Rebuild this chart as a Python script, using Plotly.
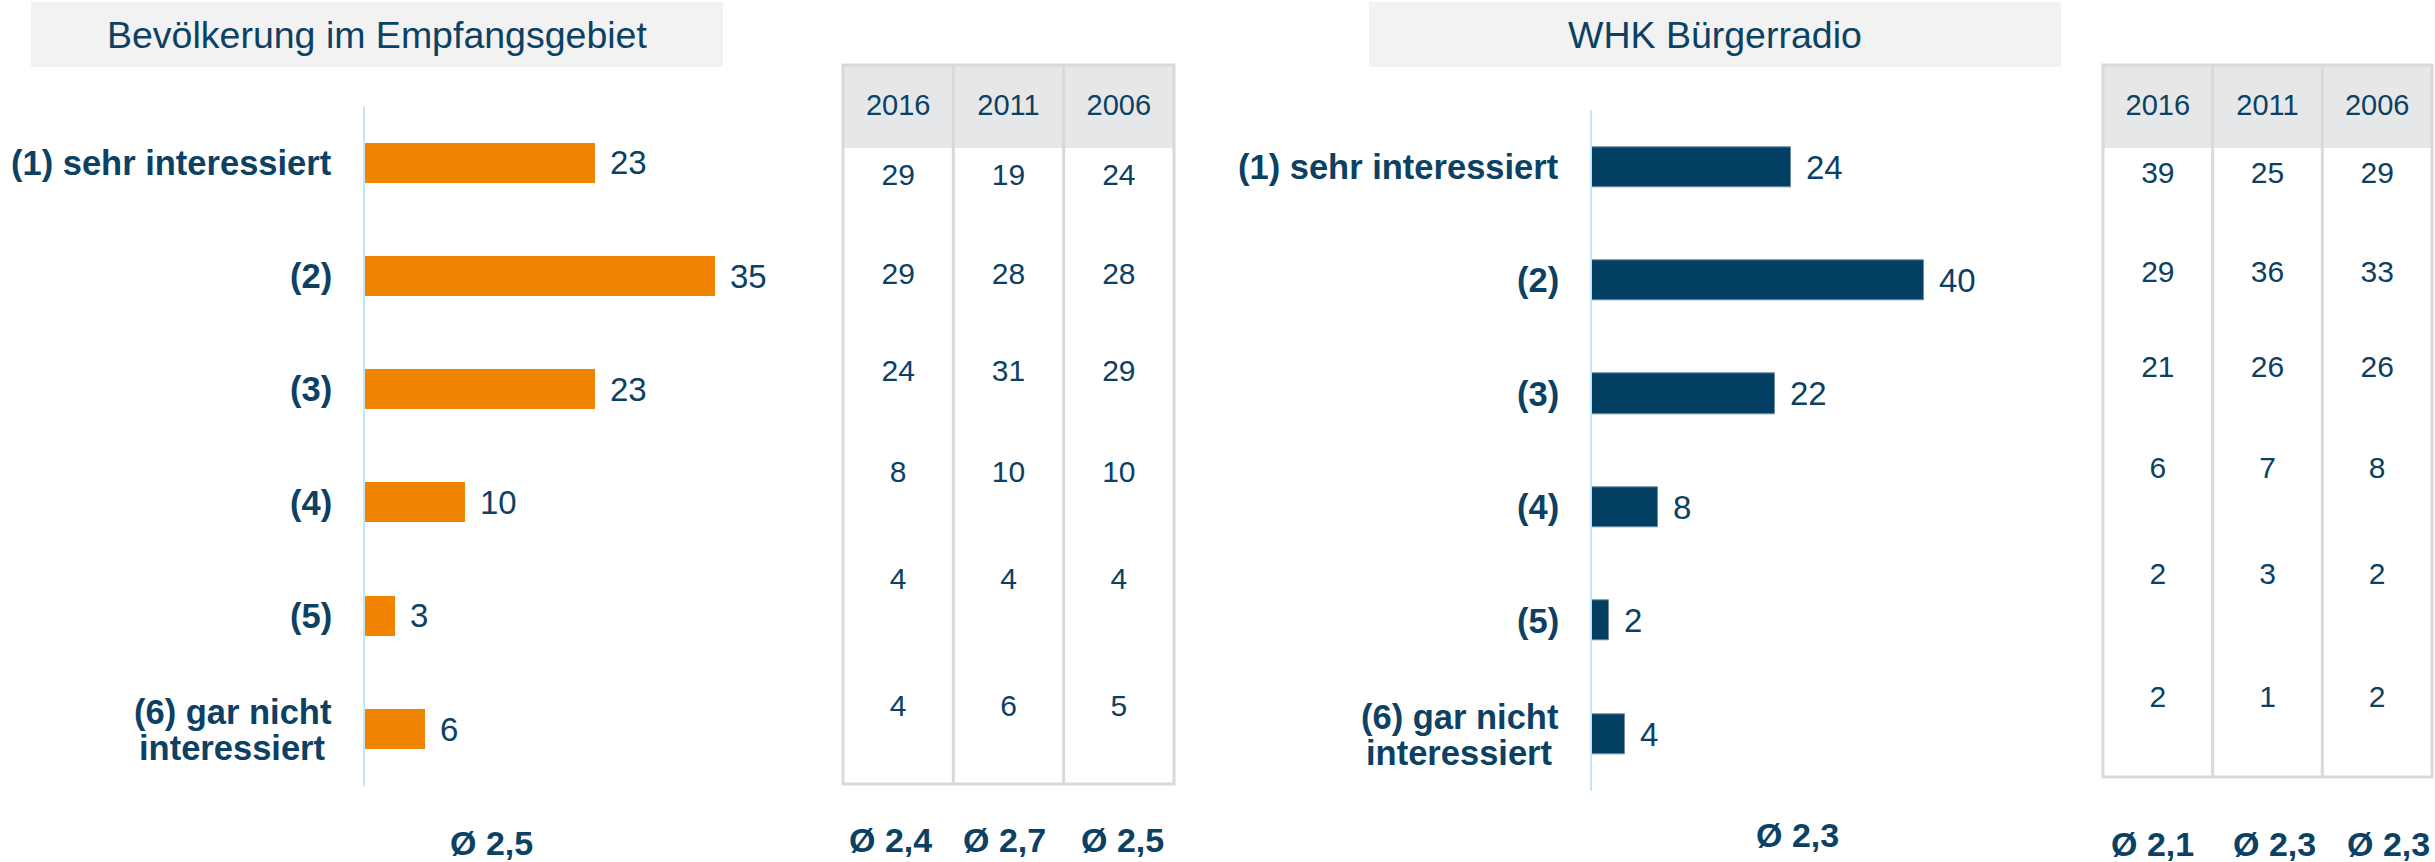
import plotly.graph_objects as go

# ---------------- data ----------------
CATEGORIES = ["(1) sehr interessiert", "(2)", "(3)", "(4)", "(5)", "(6) gar nicht<br>interessiert"]

BEV_TITLE = "Bevölkerung im Empfangsgebiet"
BEV_VALUES = [23, 35, 23, 10, 3, 6]
BEV_AVG = "Ø 2,5"

WHK_TITLE = "WHK Bürgerradio"
WHK_VALUES = [24, 40, 22, 8, 2, 4]
WHK_AVG = "Ø 2,3"

YEARS = ["2016", "2011", "2006"]
BEV_2016 = [29, 29, 24, 8, 4, 4]
BEV_2011 = [19, 28, 31, 10, 4, 6]
BEV_2006 = [24, 28, 29, 10, 4, 5]
BEV_YEAR_AVG = ["Ø 2,4", "Ø 2,7", "Ø 2,5"]

WHK_2016 = [39, 29, 21, 6, 2, 2]
WHK_2011 = [25, 36, 26, 7, 3, 1]
WHK_2006 = [29, 33, 26, 8, 2, 2]
WHK_YEAR_AVG = ["Ø 2,1", "Ø 2,3", "Ø 2,3"]

# ---------------- layout constants ----------------
W, H = 2435, 862
FONT = "Liberation Sans, Arial, sans-serif"
TXT = "#0c4163"
ORANGE = "#f08300"
NAVY = "#023f62"
AXIS_BLUE = "#c4e6fa"
GRID = "#d9d9d9"
HEAD_BG = "#e6e7e9"
TITLE_BG = "#f2f2f2"


def px(x):
    return x / W


def py(y):
    return 1 - y / H


fig = go.Figure()

idx = list(range(len(CATEGORIES)))

# bars
fig.add_trace(go.Bar(x=BEV_VALUES, y=idx, orientation="h", width=0.353,
                     marker=dict(color=ORANGE, line=dict(width=0)),
                     xaxis="x", yaxis="y", hoverinfo="skip"))
fig.add_trace(go.Bar(x=WHK_VALUES, y=idx, orientation="h", width=0.353,
                     marker=dict(color=NAVY, line=dict(width=1, color="#6d8da3")),
                     xaxis="x2", yaxis="y2", hoverinfo="skip"))

# tables (text cells)
ROW_Y_BEV = [177, 276, 373, 474, 581, 708]
ROW_Y_WHK = [175, 274, 369, 470, 576, 699]
for cols, rows, xa in (((BEV_2016, BEV_2011, BEV_2006), ROW_Y_BEV, "x3"),
                       ((WHK_2016, WHK_2011, WHK_2006), ROW_Y_WHK, "x4")):
    xs, ys, ts = [], [], []
    for year, col in zip(YEARS, cols):
        for r, v in zip(rows, col):
            xs.append(year)
            ys.append(r)
            ts.append(str(v))
    fig.add_trace(go.Scatter(x=xs, y=ys, text=ts, mode="text",
                             textposition="middle center",
                             textfont=dict(family=FONT, size=30, color=TXT),
                             xaxis=xa, yaxis="y3", hoverinfo="skip"))
    # header
    fig.add_trace(go.Scatter(x=YEARS, y=[108] * 3, text=YEARS, mode="text",
                             textposition="middle center",
                             textfont=dict(family=FONT, size=29, color=TXT),
                             xaxis=xa, yaxis="y3", hoverinfo="skip"))

shapes = []
annotations = []

# title boxes
for (x0, x1, title) in ((31, 723, BEV_TITLE), (1369, 2061, WHK_TITLE)):
    shapes.append(dict(type="rect", xref="paper", yref="paper",
                       x0=px(x0), x1=px(x1), y0=py(67), y1=py(2),
                       fillcolor=TITLE_BG, line=dict(width=0), layer="below"))
    annotations.append(dict(xref="paper", yref="paper", x=px((x0 + x1) / 2), y=py(35),
                            text=title, showarrow=False, xanchor="center", yanchor="middle",
                            font=dict(family=FONT, size=37.5, color=TXT)))

# tables: header background, borders
for (x0, x1, top, bottom) in ((843, 1174, 65, 784), (2103, 2432, 65, 777)):
    shapes.append(dict(type="rect", xref="paper", yref="paper",
                       x0=px(x0), x1=px(x1), y0=py(148), y1=py(top),
                       fillcolor=HEAD_BG, line=dict(width=0), layer="below"))
    shapes.append(dict(type="rect", xref="paper", yref="paper",
                       x0=px(x0), x1=px(x1), y0=py(bottom), y1=py(top),
                       line=dict(color=GRID, width=3)))
    cw = (x1 - x0) / 3
    for k in (1, 2):
        shapes.append(dict(type="line", xref="paper", yref="paper",
                           x0=px(x0 + k * cw), x1=px(x0 + k * cw), y0=py(bottom), y1=py(top),
                           line=dict(color=GRID, width=3)))

# category labels and value labels
LABEL_FONT = dict(family=FONT, size=34.5, color=TXT)
for yref, xref, label_x, values in (("y", "x", 334, BEV_VALUES), ("y2", "x2", 1561, WHK_VALUES)):
    for i, (cat, v) in enumerate(zip(CATEGORIES, values)):
        lines = cat.split("<br>")
        if len(lines) == 1:
            annotations.append(dict(xref="paper", yref=yref, x=px(label_x), y=i,
                                    text="<b>%s</b>" % cat, showarrow=False,
                                    xanchor="right", yanchor="middle", font=LABEL_FONT))
        else:
            # two centred lines forming a right-aligned block
            annotations.append(dict(xref="paper", yref=yref, x=px(label_x), y=i,
                                    text="<b>%s</b>" % lines[0], showarrow=False, yshift=17,
                                    xanchor="right", yanchor="middle", font=LABEL_FONT))
            annotations.append(dict(xref="paper", yref=yref, x=px(label_x - 6), y=i,
                                    text="<b>%s</b>" % lines[1], showarrow=False, yshift=-19,
                                    xanchor="right", yanchor="middle", font=LABEL_FONT))
        annotations.append(dict(xref=xref, yref=yref, x=v, y=i, text=str(v), showarrow=False,
                                xanchor="left", yanchor="middle", xshift=13,
                                font=dict(family=FONT, size=33, color=TXT)))

# averages
for x, y, t in ((491, 843, BEV_AVG), (1797, 835, WHK_AVG)):
    annotations.append(dict(xref="paper", yref="paper", x=px(x), y=py(y), text="<b>%s</b>" % t,
                            showarrow=False, xanchor="center", yanchor="middle",
                            font=dict(family=FONT, size=34, color=TXT)))
for xs, y, texts in (((890, 1004, 1122), 840, BEV_YEAR_AVG), ((2152, 2274, 2388), 844, WHK_YEAR_AVG)):
    for x, t in zip(xs, texts):
        annotations.append(dict(xref="paper", yref="paper", x=px(x), y=py(y), text="<b>%s</b>" % t,
                                showarrow=False, xanchor="center", yanchor="middle",
                                font=dict(family=FONT, size=34, color=TXT)))

hidden = dict(visible=False, showgrid=False, zeroline=False, fixedrange=True)

fig.update_layout(
    width=W, height=H,
    margin=dict(l=0, r=0, t=0, b=0),
    paper_bgcolor="white", plot_bgcolor="rgba(0,0,0,0)",
    showlegend=False, hovermode=False,
    bargap=0,
    xaxis=dict(domain=[px(365), px(865)], range=[0, 50], anchor="y", **hidden),
    yaxis=dict(domain=[py(785.7), py(106.3)], range=[5.5, -0.5], anchor="x",
               showline=True, linecolor=AXIS_BLUE, linewidth=2, showticklabels=False,
               ticks="", showgrid=False, zeroline=False, fixedrange=True),
    xaxis2=dict(domain=[px(1592), px(1592 + 415)], range=[0, 50], anchor="y2", **hidden),
    yaxis2=dict(domain=[py(790.7), py(110.3)], range=[5.5, -0.5], anchor="x2",
                showline=True, linecolor=AXIS_BLUE, linewidth=2, showticklabels=False,
                ticks="", showgrid=False, zeroline=False, fixedrange=True),
    xaxis3=dict(domain=[px(843), px(1174)], type="category", categoryorder="array",
                categoryarray=YEARS, range=[-0.5, 2.5], anchor="y3", **hidden),
    xaxis4=dict(domain=[px(2103), px(2432)], type="category", categoryorder="array",
                categoryarray=YEARS, range=[-0.5, 2.5], anchor="y3", **hidden),
    yaxis3=dict(domain=[0, 1], range=[H, 0], anchor="x3", **hidden),
    shapes=shapes,
    annotations=annotations,
)

fig.write_html("out.html", config={"displayModeBar": False},
               post_script="document.body.style.margin='0';document.body.style.overflow='hidden';")
